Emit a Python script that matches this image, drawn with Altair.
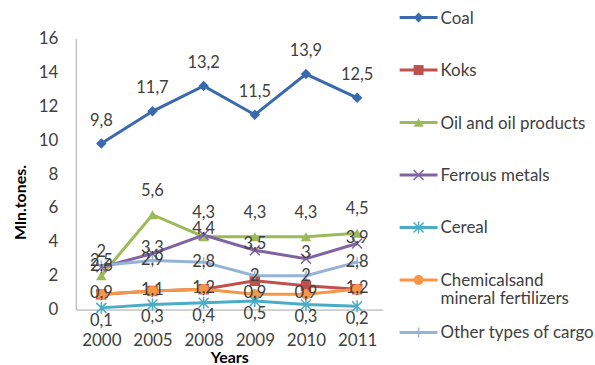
import altair as alt
import pandas as pd

years = ["2000", "2005", "2008", "2009", "2010", "2011"]
series_names = ["Coal", "Koks", "Oil and oil products", "Ferrous metals", "Cereal",
                "Chemicalsand mineral fertilizers", "Other types of cargo"]
legend_labels = ["Coal", "Koks", "Oil and oil products", "Ferrous metals", "Cereal",
                 "Chemicalsand\nmineral fertilizers", "Other types of cargo"]
coal = [9.8, 11.7, 13.2, 11.5, 13.9, 12.5]
koks = [0.9, 1.1, 1.2, 1.7, 1.4, 1.2]
oil = [2.0, 5.6, 4.3, 4.3, 4.3, 4.5]
ferrous = [2.5, 3.3, 4.4, 3.5, 3.0, 3.9]
cereal = [0.1, 0.3, 0.4, 0.5, 0.3, 0.2]
chemicals = [0.9, 1.1, 1.2, 0.9, 0.9, 1.2]
other = [2.6, 2.9, 2.8, 2.0, 2.0, 2.8]

colors = ["#3A6AAE", "#C0504D", "#9BBB59", "#8064A2", "#4BACC6", "#F79646", "#95B3D7"]
shapes = ["diamond", "square", "triangle-up",
          "M-1,-1L1,1M-1,1L1,-1",
          "M-1,-1L1,1M-1,1L1,-1M0,-1.2L0,1.2",
          "circle",
          "M-1,0L1,0M0,-1L0,1"]
filled_series = ["Coal", "Koks", "Oil and oil products", "Chemicalsand mineral fertilizers"]
label_dy = {"Coal": -23, "Oil and oil products": -24, "Ferrous metals": -6,
            "Cereal": 13, "Chemicalsand mineral fertilizers": -1, "Other types of cargo": 0}

all_values = [coal, koks, oil, ferrous, cereal, chemicals, other]
rows = []
for name, vals in zip(series_names, all_values):
    for y, v in zip(years, vals):
        rows.append({"year": y, "series": name, "value": v,
                     "label": f"{v:g}".replace(".", ",")})
df = pd.DataFrame(rows)

FONT = "Lato"
color_scale = alt.Scale(domain=series_names, range=colors)
shape_scale = alt.Scale(domain=series_names, range=shapes)

x_enc = alt.X("year:O", scale=alt.Scale(type="point", padding=0.5),
              axis=alt.Axis(title="Years", labelAngle=0, ticks=False, labelPadding=23,
                            titlePadding=1, domainColor="#A6A6A6", labelFontSize=17,
                            labelColor="#404040", titleFontSize=16, titleFont=FONT,
                            labelFont=FONT, titleFontWeight="bold", titleColor="#000000"))
y_enc = alt.Y("value:Q", scale=alt.Scale(domain=[0, 16], nice=False),
              axis=alt.Axis(title="Mln.tones.", values=[0, 2, 4, 6, 8, 10, 12, 14, 16],
                            grid=False, ticks=False, labelPadding=18, titlePadding=10,
                            titleY=164,
                            domainColor="#A6A6A6", labelFontSize=17, labelColor="#404040",
                            titleFontSize=16, titleFont=FONT, labelFont=FONT,
                            titleFontWeight="bold", titleColor="#000000"))

base = alt.Chart(df)
lines = base.mark_line(strokeWidth=3).encode(
    x=x_enc, y=y_enc,
    color=alt.Color("series:N", scale=color_scale, legend=None),
    detail="series:N",
    order=alt.Order("year:O"),
)
pts_filled = base.transform_filter(
    alt.FieldOneOfPredicate(field="series", oneOf=filled_series)
).mark_point(filled=True, size=110, opacity=1).encode(
    x=x_enc, y=y_enc,
    color=alt.Color("series:N", scale=color_scale, legend=None),
    shape=alt.Shape("series:N", scale=shape_scale, legend=None),
)
pts_stroked = base.transform_filter(
    {"not": alt.FieldOneOfPredicate(field="series", oneOf=filled_series)}
).mark_point(filled=False, size=100, strokeWidth=1.5, opacity=1).encode(
    x=x_enc, y=y_enc,
    color=alt.Color("series:N", scale=color_scale, legend=None),
    shape=alt.Shape("series:N", scale=shape_scale, legend=None),
)

label_layers = []
for name, dy in label_dy.items():
    label_layers.append(
        base.transform_filter(alt.datum.series == name).mark_text(
            dy=dy, fontSize=16.5, font=FONT, color="#404040", baseline="middle"
        ).encode(x=x_enc, y=y_enc, text="label:N")
    )

main = alt.layer(lines, pts_filled, pts_stroked, *label_layers).properties(
    width=308, height=272,
)

# custom legend
leg_df = pd.DataFrame({"series": series_names, "text": legend_labels})
leg_y = alt.Y("series:N", sort=series_names,
              scale=alt.Scale(type="point", padding=0, range=[-21, 295]), axis=None)
leg_base = alt.Chart(leg_df)
leg_rule = leg_base.mark_rule(strokeWidth=3).encode(
    y=leg_y, x=alt.value(0), x2=alt.value(38),
    color=alt.Color("series:N", scale=color_scale, legend=None),
)
leg_pf = leg_base.transform_filter(
    alt.FieldOneOfPredicate(field="series", oneOf=filled_series)
).mark_point(filled=True, size=100, opacity=1).encode(
    y=leg_y, x=alt.value(19),
    color=alt.Color("series:N", scale=color_scale, legend=None),
    shape=alt.Shape("series:N", scale=shape_scale, legend=None),
)
leg_ps = leg_base.transform_filter(
    {"not": alt.FieldOneOfPredicate(field="series", oneOf=filled_series)}
).mark_point(filled=False, size=100, strokeWidth=1.5, opacity=1).encode(
    y=leg_y, x=alt.value(19),
    color=alt.Color("series:N", scale=color_scale, legend=None),
    shape=alt.Shape("series:N", scale=shape_scale, legend=None),
)
leg_text = leg_base.mark_text(
    align="left", baseline="alphabetic", dy=6, fontSize=17, font=FONT,
    color="#404040", lineBreak="\n", lineHeight=18,
).encode(y=leg_y, x=alt.value(41), text="text:N")

legend = alt.layer(leg_rule, leg_pf, leg_ps, leg_text).properties(width=150, height=272)

chart = alt.hconcat(main, legend, spacing=15).configure_view(stroke=None).properties(
    padding={"left": 12, "top": 9, "right": 0, "bottom": 0},
    background="white",
)

chart.save("out.html", embed_options={"renderer": "svg", "actions": False})
